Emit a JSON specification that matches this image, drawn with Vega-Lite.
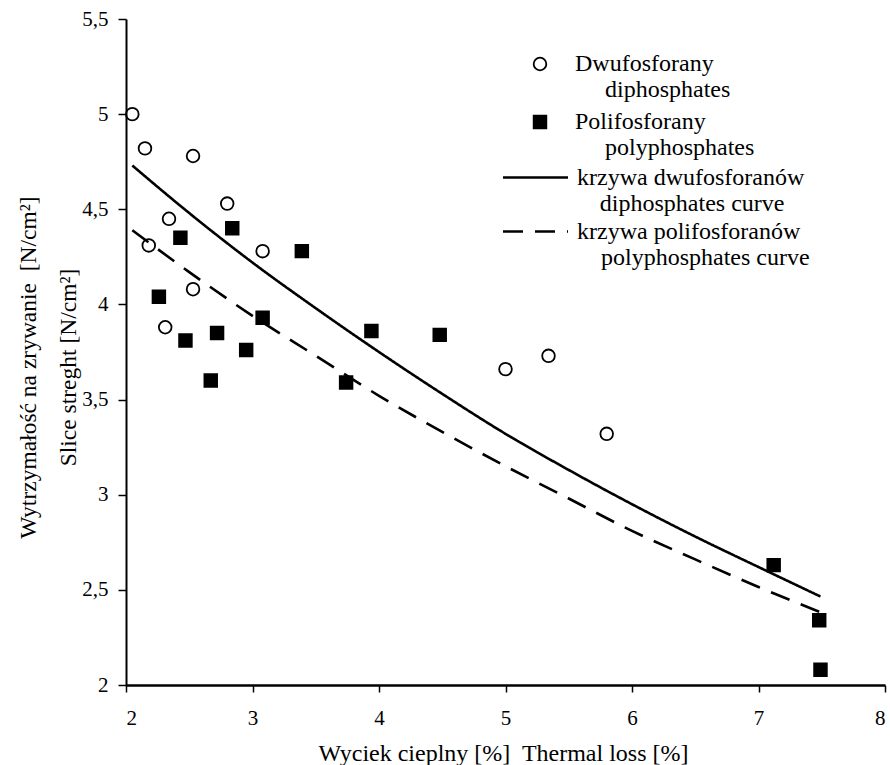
{
  "$schema": "https://vega.github.io/schema/vega-lite/v6.json",
  "autosize": {"type": "none"},
  "padding": {"left": 126, "top": 19, "right": 5, "bottom": 80},
  "width": 759,
  "height": 666,
  "background": "white",
  "config": {
    "view": {"stroke": null},
    "font": "Liberation Serif",
    "axis": {
      "domainColor": "black", "domainWidth": 2,
      "tickColor": "black", "tickWidth": 1.5,
      "labelColor": "black", "labelFont": "Liberation Serif", "labelFontSize": 21,
      "titleFont": "Liberation Serif", "titleFontWeight": "normal", "titleColor": "black",
      "grid": false
    },
    "legend": {
      "labelFont": "Liberation Serif", "labelFontSize": 24, "labelColor": "black",
      "labelLimit": 500, "labelLineHeight": 25
    }
  },
  "datasets": {
    "punkty": [
      {"typ": "Dwufosforany", "x": 2.05, "y": 5.00},
      {"typ": "Dwufosforany", "x": 2.15, "y": 4.82},
      {"typ": "Dwufosforany", "x": 2.53, "y": 4.78},
      {"typ": "Dwufosforany", "x": 2.80, "y": 4.53},
      {"typ": "Dwufosforany", "x": 2.34, "y": 4.45},
      {"typ": "Dwufosforany", "x": 2.18, "y": 4.31},
      {"typ": "Dwufosforany", "x": 3.08, "y": 4.28},
      {"typ": "Dwufosforany", "x": 2.53, "y": 4.08},
      {"typ": "Dwufosforany", "x": 2.31, "y": 3.88},
      {"typ": "Dwufosforany", "x": 5.00, "y": 3.66},
      {"typ": "Dwufosforany", "x": 5.34, "y": 3.73},
      {"typ": "Dwufosforany", "x": 5.80, "y": 3.32},
      {"typ": "Polifosforany", "x": 2.43, "y": 4.35},
      {"typ": "Polifosforany", "x": 2.84, "y": 4.40},
      {"typ": "Polifosforany", "x": 3.39, "y": 4.28},
      {"typ": "Polifosforany", "x": 2.26, "y": 4.04},
      {"typ": "Polifosforany", "x": 2.47, "y": 3.81},
      {"typ": "Polifosforany", "x": 2.72, "y": 3.85},
      {"typ": "Polifosforany", "x": 3.08, "y": 3.93},
      {"typ": "Polifosforany", "x": 2.95, "y": 3.76},
      {"typ": "Polifosforany", "x": 2.67, "y": 3.60},
      {"typ": "Polifosforany", "x": 3.94, "y": 3.86},
      {"typ": "Polifosforany", "x": 4.48, "y": 3.84},
      {"typ": "Polifosforany", "x": 3.74, "y": 3.59},
      {"typ": "Polifosforany", "x": 7.12, "y": 2.63},
      {"typ": "Polifosforany", "x": 7.48, "y": 2.34},
      {"typ": "Polifosforany", "x": 7.49, "y": 2.08}
    ],
    "krzywe": [
      {"krzywa": "krzywa dwufosforanów", "x": 2.05, "y": 4.73},
      {"krzywa": "krzywa dwufosforanów", "x": 2.5, "y": 4.48},
      {"krzywa": "krzywa dwufosforanów", "x": 3.0, "y": 4.22},
      {"krzywa": "krzywa dwufosforanów", "x": 3.5, "y": 3.98},
      {"krzywa": "krzywa dwufosforanów", "x": 4.0, "y": 3.75},
      {"krzywa": "krzywa dwufosforanów", "x": 4.5, "y": 3.53},
      {"krzywa": "krzywa dwufosforanów", "x": 5.0, "y": 3.32},
      {"krzywa": "krzywa dwufosforanów", "x": 5.5, "y": 3.13},
      {"krzywa": "krzywa dwufosforanów", "x": 6.0, "y": 2.95},
      {"krzywa": "krzywa dwufosforanów", "x": 6.5, "y": 2.78},
      {"krzywa": "krzywa dwufosforanów", "x": 7.0, "y": 2.62},
      {"krzywa": "krzywa dwufosforanów", "x": 7.49, "y": 2.465},
      {"krzywa": "krzywa polifosforanów", "x": 2.05, "y": 4.39},
      {"krzywa": "krzywa polifosforanów", "x": 2.5, "y": 4.17},
      {"krzywa": "krzywa polifosforanów", "x": 3.0, "y": 3.94},
      {"krzywa": "krzywa polifosforanów", "x": 3.5, "y": 3.73},
      {"krzywa": "krzywa polifosforanów", "x": 4.0, "y": 3.52},
      {"krzywa": "krzywa polifosforanów", "x": 4.5, "y": 3.33},
      {"krzywa": "krzywa polifosforanów", "x": 5.0, "y": 3.15},
      {"krzywa": "krzywa polifosforanów", "x": 5.5, "y": 2.98},
      {"krzywa": "krzywa polifosforanów", "x": 6.0, "y": 2.81},
      {"krzywa": "krzywa polifosforanów", "x": 6.5, "y": 2.66},
      {"krzywa": "krzywa polifosforanów", "x": 7.0, "y": 2.515},
      {"krzywa": "krzywa polifosforanów", "x": 7.48, "y": 2.385}
    ]
  },
  "encoding": {
    "x": {
      "field": "x", "type": "quantitative",
      "scale": {"domain": [2, 8], "nice": false, "zero": false},
      "axis": {
        "values": [2, 3, 4, 5, 6, 7, 8], "format": "d",
        "tickSize": 7, "labelPadding": 15, "domainWidth": 2.5,
        "title": "Wyciek cieplny [%]\u00a0 Thermal loss [%]",
        "titleFontSize": 24, "titleX": 377, "titleY": 75,
        "titleAlign": "center", "titleBaseline": "alphabetic", "titleAnchor": "start"
      }
    },
    "y": {
      "field": "y", "type": "quantitative",
      "scale": {"domain": [2, 5.5], "nice": false, "zero": false},
      "axis": {
        "values": [2, 2.5, 3, 3.5, 4, 4.5, 5, 5.5],
        "labelExpr": "replace(format(datum.value, '~g'), '.', ',')",
        "tickSize": 8, "labelPadding": 10,
        "title": ["Wytrzymałość na zrywanie\u00a0 [N/cm²]", "Slice streght [N/cm²]"],
        "titleFontSize": 23.5, "titleLineHeight": 40,
        "titleX": -91, "titleY": 348, "titleAngle": -90,
        "titleAlign": "center", "titleBaseline": "alphabetic", "titleAnchor": "start"
      }
    }
  },
  "layer": [
    {
      "data": {"name": "krzywe"},
      "mark": {"type": "line", "color": "black", "interpolate": "monotone", "strokeWidth": 2.6},
      "encoding": {
        "strokeDash": {
          "field": "krzywa", "type": "nominal",
          "scale": {"domain": ["krzywa dwufosforanów", "krzywa polifosforanów"], "range": [[1, 0], [20, 12]]},
          "legend": {
            "orient": "none", "legendX": 395, "legendY": 144, "title": null,
            "symbolType": "M-2.5,0H2.5", "symbolSize": 676, "symbolStrokeWidth": 2.6,
            "symbolStrokeColor": "black", "labelOffset": 27, "rowPadding": 1,
            "labelExpr": "datum.label == 'krzywa dwufosforanów' ? ['krzywa dwufosforanów', '\u200b\u00a0\u00a0\u00a0\u2009diphosphates curve'] : ['krzywa polifosforanów', '\u200b\u00a0\u00a0\u00a0\u00a0polyphosphates curve']"
          }
        }
      }
    },
    {
      "data": {"name": "punkty"},
      "mark": {"type": "point", "filled": false, "color": "black", "strokeWidth": 1.8, "size": 160, "opacity": 1},
      "encoding": {
        "shape": {
          "field": "typ", "type": "nominal",
          "scale": {"domain": ["Dwufosforany", "Polifosforany"], "range": ["circle", "square"]},
          "legend": {
            "orient": "none", "legendX": 402, "legendY": 33, "title": null,
            "symbolSize": 160, "symbolStrokeWidth": 1.8, "symbolStrokeColor": "black",
            "labelOffset": 23, "rowPadding": 8,
            "labelExpr": "datum.label == 'Dwufosforany' ? ['Dwufosforany', '\u200b\u00a0\u00a0\u00a0\u00a0\u00a0diphosphates'] : ['Polifosforany', '\u200b\u00a0\u00a0\u00a0\u00a0\u00a0polyphosphates']",
            "encoding": {"symbols": {"stroke": {"value": "black"}, "strokeWidth": {"value": 1.8}, "strokeOpacity": {"value": 1}, "opacity": {"value": 1}}}
          }
        },
        "fill": {
          "field": "typ", "type": "nominal",
          "scale": {"domain": ["Dwufosforany", "Polifosforany"], "range": ["transparent", "black"]},
          "legend": {
            "orient": "none", "legendX": 402, "legendY": 33, "title": null,
            "symbolSize": 160, "symbolStrokeWidth": 1.8, "symbolStrokeColor": "black",
            "labelOffset": 23, "rowPadding": 8,
            "encoding": {"symbols": {"stroke": {"value": "black"}, "strokeWidth": {"value": 1.8}, "strokeOpacity": {"value": 1}, "opacity": {"value": 1}}}
          }
        }
      }
    }
  ]
}
